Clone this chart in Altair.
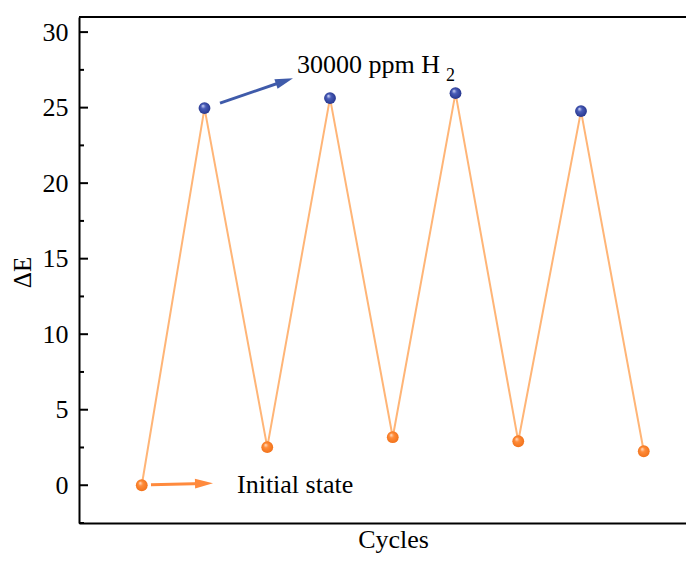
import altair as alt
import pandas as pd

# ---- data ----
cycles = [1, 2, 3, 4, 5, 6, 7, 8, 9]
delta_e = [0.0, 24.97, 2.52, 25.63, 3.18, 25.96, 2.91, 24.77, 2.25]
state = ["air", "H2", "air", "H2", "air", "H2", "air", "H2", "air"]

y_ticks = [0, 5, 10, 15, 20, 25, 30]
y_minor = [-2.5, 2.5, 7.5, 12.5, 17.5, 22.5, 27.5]

# annotation anchors (data units)
arrow_names = ["h2", "init"]
arrow_x1 = [2.247, 1.147]
arrow_y1 = [25.30, 0.03]
arrow_x2 = [3.275, 1.992]
arrow_y2 = [26.76, 0.12]
arrow_angle = [341.1, 358.6]
arrow_color = ["#3F5BAA", "#FF8A3D"]

label_text = ["30000 ppm H", "Initial state"]
label_x = [3.474, 2.518]
label_y = [27.85, 0.0]
sub_text = ["2"]
sub_x = [5.85]
sub_y = [27.1]

FONT = "Times New Roman, Liberation Serif, Times, serif"
W, H = 607, 506
xs = alt.Scale(domain=[0, 607 / 62.75], nice=False, zero=False)
ys = alt.Scale(domain=[-2.5, 31], nice=False, zero=False)

df = pd.DataFrame({"cycle": cycles, "dE": delta_e, "state": state})
arr = pd.DataFrame({"name": arrow_names, "x1": arrow_x1, "y1": arrow_y1,
                    "x2": arrow_x2, "y2": arrow_y2, "angle": arrow_angle,
                    "color": arrow_color})
lab = pd.DataFrame({"t": label_text, "x": label_x, "y": label_y})
sub = pd.DataFrame({"t": sub_text, "x": sub_x, "y": sub_y})
ticks_major = pd.DataFrame({"v": y_ticks})
ticks_minor = pd.DataFrame({"v": y_minor})

base = alt.Chart(df)

line = base.mark_line(color="#FFB577", strokeWidth=2).encode(
    x=alt.X("cycle:Q", scale=xs,
            axis=alt.Axis(ticks=False, labels=False, grid=False, domainColor="black",
                          domainWidth=2, title="Cycles", titleFont=FONT,
                          titleFontSize=26, titleFontWeight="normal", titleColor="black",
                          titleX=314, titleY=16, titleBaseline="middle",
                          titleAnchor="start", titleAlign="center")),
    y=alt.Y("dE:Q", scale=ys,
            axis=alt.Axis(values=y_ticks, ticks=False, grid=False, domainColor="black",
                          domainWidth=2, labelFont=FONT, labelFontSize=26,
                          labelColor="black", labelPadding=11,
                          title="ΔE", titleFont=FONT, titleFontSize=25,
                          titleFontWeight="normal", titleColor="black",
                          titleX=-57, titleY=255, titleAngle=270,
                          titleBaseline="middle", titleAlign="center")),
)

orange_grad = alt.RadialGradient(gradient="radial", x1=0.35, y1=0.3, r1=0.0,
                                 x2=0.5, y2=0.5, r2=0.55,
                                 stops=[alt.GradientStop(offset=0, color="#FFE8D6"),
                                        alt.GradientStop(offset=0.35, color="#FF8C3A"),
                                        alt.GradientStop(offset=1, color="#F07018")])
blue_grad = alt.RadialGradient(gradient="radial", x1=0.35, y1=0.3, r1=0.0,
                               x2=0.5, y2=0.5, r2=0.55,
                               stops=[alt.GradientStop(offset=0, color="#DCE2FF"),
                                      alt.GradientStop(offset=0.35, color="#4A5DB8"),
                                      alt.GradientStop(offset=1, color="#23338A")])

pts_air = base.transform_filter(alt.datum.state == "air").mark_point(
    filled=True, size=140, fill=orange_grad, opacity=1, strokeWidth=0
).encode(x=alt.X("cycle:Q", scale=xs), y=alt.Y("dE:Q", scale=ys))
pts_h2 = base.transform_filter(alt.datum.state == "H2").mark_point(
    filled=True, size=140, fill=blue_grad, opacity=1, strokeWidth=0
).encode(x=alt.X("cycle:Q", scale=xs), y=alt.Y("dE:Q", scale=ys))

arrows = alt.Chart(arr).mark_rule(strokeWidth=3).encode(
    x=alt.X("x1:Q", scale=xs), y=alt.Y("y1:Q", scale=ys),
    x2="x2:Q", y2="y2:Q",
    color=alt.Color("color:N", scale=None),
)
heads = alt.Chart(arr).mark_point(shape="M1,0L-1,-0.55L-1,0.55Z", filled=True, size=324,
                                  opacity=1, strokeWidth=0).encode(
    x=alt.X("x2:Q", scale=xs), y=alt.Y("y2:Q", scale=ys),
    angle=alt.Angle("angle:Q", scale=None),
    color=alt.Color("color:N", scale=None),
)

labels = alt.Chart(lab).mark_text(font=FONT, fontSize=26, align="left",
                                  baseline="middle", color="black").encode(
    x=alt.X("x:Q", scale=xs), y=alt.Y("y:Q", scale=ys), text="t:N")
subs = alt.Chart(sub).mark_text(font=FONT, fontSize=18, align="left",
                                baseline="middle", color="black").encode(
    x=alt.X("x:Q", scale=xs), y=alt.Y("y:Q", scale=ys), text="t:N")

tmaj = alt.Chart(ticks_major).mark_rule(color="black", strokeWidth=2).encode(
    y=alt.Y("v:Q", scale=ys), x=alt.value(0), x2=alt.value(9))
tmin = alt.Chart(ticks_minor).mark_rule(color="black", strokeWidth=2).encode(
    y=alt.Y("v:Q", scale=ys), x=alt.value(0), x2=alt.value(5))
top = alt.Chart(ticks_major).mark_rule(color="black", strokeWidth=2).encode(
    y=alt.value(0), x=alt.value(0), x2=alt.value(W))

chart = alt.layer(top, tmaj, tmin, line, arrows, heads, pts_air, pts_h2, labels, subs).properties(
    width=W, height=H,
    autosize=alt.AutoSizeParams(type="none"),
    padding={"left": 71, "top": 9, "right": 0, "bottom": 31},
).configure_view(stroke=None).configure(background="white")

chart.save("out.html", embed_options={"renderer": "svg", "actions": False})
